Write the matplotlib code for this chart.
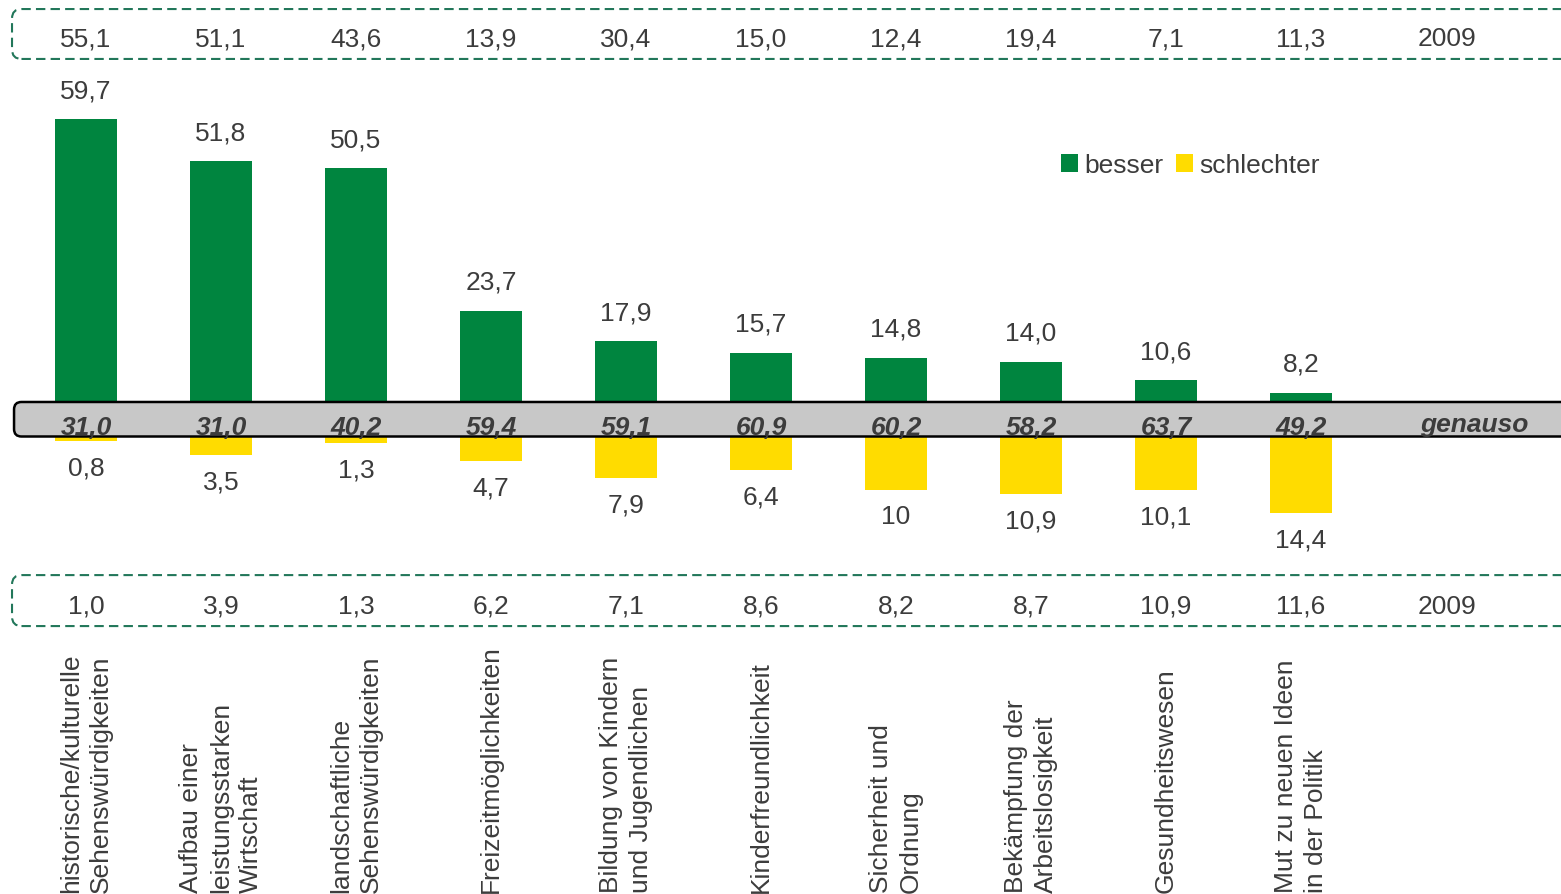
import numpy as np
import matplotlib.pyplot as plt
from matplotlib.patches import FancyBboxPatch

plt.rcParams['font.family'] = ['Liberation Sans', 'DejaVu Sans']

kategorien = ["historische/kulturelle\nSehenswürdigkeiten",
              "Aufbau einer\nleistungsstarken\nWirtschaft",
              "landschaftliche\nSehenswürdigkeiten",
              "Freizeitmöglichkeiten",
              "Bildung von Kindern\nund Jugendlichen",
              "Kinderfreundlichkeit",
              "Sicherheit und\nOrdnung",
              "Bekämpfung der\nArbeitslosigkeit",
              "Gesundheitswesen",
              "Mut zu neuen Ideen\nin der Politik"]
besser = [59.7, 51.8, 50.5, 23.7, 17.9, 15.7, 14.8, 14.0, 10.6, 8.2]
schlechter = [0.8, 3.5, 1.3, 4.7, 7.9, 6.4, 10, 10.9, 10.1, 14.4]
genauso = [31.0, 31.0, 40.2, 59.4, 59.1, 60.9, 60.2, 58.2, 63.7, 49.2]
besser_2009 = [55.1, 51.1, 43.6, 13.9, 30.4, 15.0, 12.4, 19.4, 7.1, 11.3]
schlechter_2009 = [1.0, 3.9, 1.3, 6.2, 7.1, 8.6, 8.2, 8.7, 10.9, 11.6]

GREEN = '#00853f'
YELLOW = '#ffdc00'
BAND = '#c8c8c8'
BOX = '#22775a'
TXT = '#3c3c3c'
FS = 19

# pixel geometry of the reference
W, H = 1561, 895
X0, STEP = 86, 135      # first bar centre, distance between bars (px)
Y0, UNIT = 437.5, 5.31  # zero line (px from top), px per percent


def fmt(v):
    if isinstance(v, int):
        return str(v)
    return f"{v:.1f}".replace('.', ',')


fig = plt.figure(figsize=(W / 100, H / 100), dpi=100)
ax = fig.add_axes([0, 0, 1, 1])
ax.set_xlim(-X0 / STEP, (W - X0) / STEP)
ax.set_ylim(-(H - Y0) / UNIT, Y0 / UNIT)
ax.set_axis_off()

x = np.arange(len(kategorien))
b1 = ax.bar(x, besser, width=0.46, color=GREEN, label='besser', zorder=2)
b2 = ax.bar(x, -np.array(schlechter), width=0.46, color=YELLOW,
            label='schlechter', zorder=2)

asp = STEP / UNIT
# grey "genauso" band
ax.add_patch(FancyBboxPatch((-0.533, 0), 12, 6.5,
                            boxstyle="round,pad=0,rounding_size=0.055",
                            mutation_aspect=asp, fc=BAND, ec='black',
                            lw=1.8, zorder=3))
# dashed boxes for the 2009 values
for y_lo, h in [(71.1, 9.4), (-35.7, 9.6)]:
    ax.add_patch(FancyBboxPatch((-0.548, y_lo), 12, h,
                                boxstyle="round,pad=0,rounding_size=0.07",
                                mutation_aspect=asp, fill=False, ec=BOX,
                                lw=1.5, ls=(0, (4.5, 2.5)), zorder=3))

for i in x:
    ax.annotate(fmt(besser[i]), (i, besser[i]), xytext=(0, 21),
                textcoords='offset points', ha='center', va='center',
                fontsize=FS, color=TXT)
    ax.annotate(fmt(schlechter[i]), (i, -schlechter[i]), xytext=(0, -19),
                textcoords='offset points', ha='center', va='center',
                fontsize=FS, color=TXT)
    ax.text(i, 0.45, fmt(genauso[i]), ha='center', va='baseline',
            fontsize=FS, fontweight='bold', fontstyle='italic', color=TXT,
            zorder=4)
    ax.text(i, 75.0, fmt(besser_2009[i]), ha='center', va='center',
            fontsize=FS, color=TXT)
    ax.text(i, -31.9, fmt(schlechter_2009[i]), ha='center', va='center',
            fontsize=FS, color=TXT)
    ax.text(i, -85.8, kategorien[i], rotation=90, ha='center', va='bottom',
            multialignment='left', linespacing=1.33, fontsize=FS, color=TXT)

ax.text(10.08, 75.0, '2009', ha='center', va='center', fontsize=FS, color=TXT)
ax.text(10.08, -31.9, '2009', ha='center', va='center', fontsize=FS, color=TXT)
ax.text(10.28, 1.0, 'genauso', ha='center', va='baseline', fontsize=FS,
        fontweight='bold', fontstyle='italic', color=TXT, zorder=4)

ax.legend(handles=[b1, b2], loc='center left',
          bbox_to_anchor=(1061 / W, 1 - 166 / H), bbox_transform=fig.transFigure,
          frameon=False, ncol=2, fontsize=FS, labelcolor=TXT,
          handlelength=0.65, handleheight=0.65, handletextpad=0.25,
          columnspacing=0.45, borderpad=0, borderaxespad=0)

fig.savefig('out.png', dpi=100)
